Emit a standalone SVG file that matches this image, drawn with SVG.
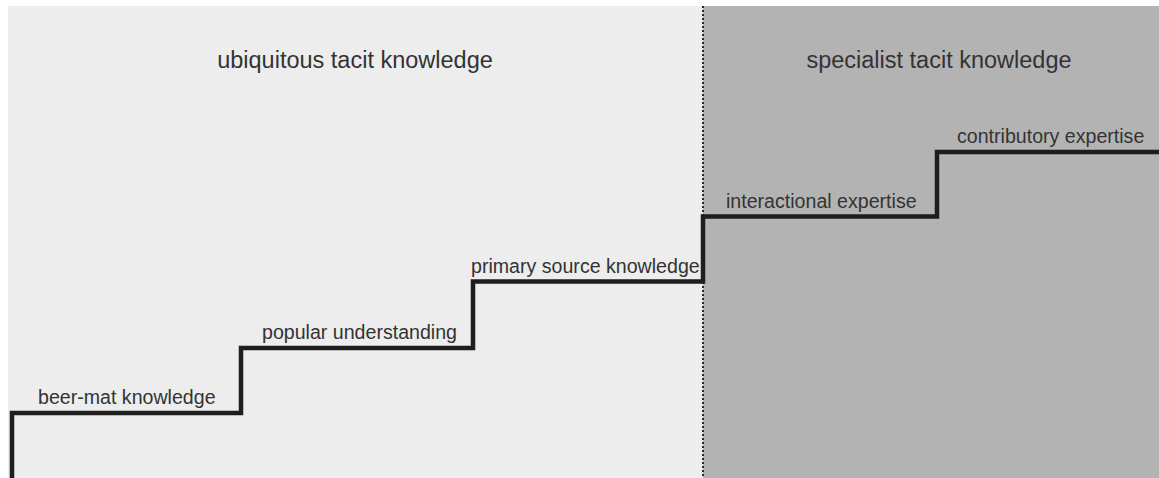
<svg xmlns="http://www.w3.org/2000/svg" width="1159" height="478" viewBox="0 0 1159 478">
<style>
.title{font-family:"Liberation Sans",Arial,sans-serif;font-size:23.5px;fill:#333;text-anchor:middle}
.lbl{font-family:"Liberation Sans",Arial,sans-serif;font-size:19.6px;fill:#333}
</style>
<rect x="0" y="0" width="1159" height="478" fill="#ffffff"/>
<g id="ubiquitous-panel">
<rect x="8" y="6" width="695" height="472" fill="#ededed"/>
<text class="title" x="355" y="68">ubiquitous tacit knowledge</text>
</g>
<g id="specialist-panel">
<rect x="703" y="6" width="456" height="472" fill="#b3b3b3"/>
<text class="title" x="939" y="68">specialist tacit knowledge</text>
</g>
<g id="connectors">
<line x1="703" y1="6" x2="703" y2="478" stroke="#2a2a2a" stroke-width="2" stroke-dasharray="2 2"/>
<path d="M12 478 V413 H241 V348 H473 V281.5 H703 V216.5 H937 V152 H1159" fill="none" stroke="#1e1e1e" stroke-width="4.5" stroke-linejoin="miter"/>
</g>
<g id="beer-mat"><text class="lbl" x="38" y="404">beer-mat knowledge</text></g>
<g id="popular"><text class="lbl" x="262" y="339">popular understanding</text></g>
<g id="primary"><text class="lbl" x="471" y="273">primary source knowledge</text></g>
<g id="interactional"><text class="lbl" x="726" y="208">interactional expertise</text></g>
<g id="contributory"><text class="lbl" x="957" y="143">contributory expertise</text></g>
</svg>
